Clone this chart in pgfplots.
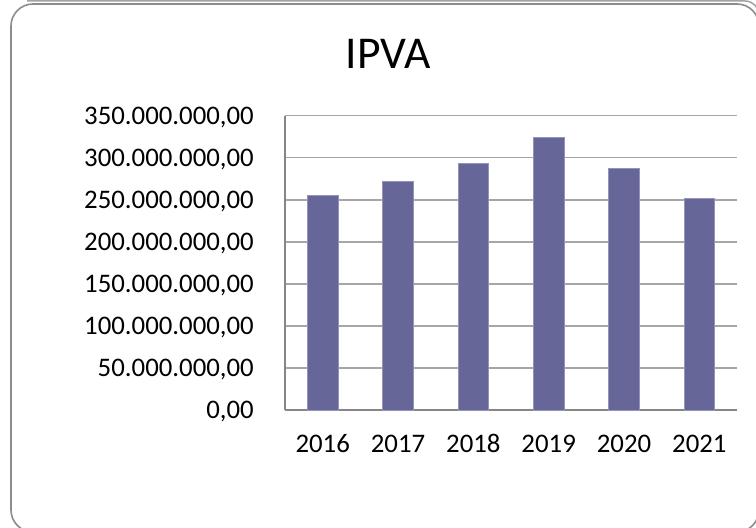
\documentclass[border=0pt]{standalone}
\usepackage{fontspec}
\setmainfont{Carlito}
\usepackage{pgfplots}
\pgfplotsset{compat=1.18}
\definecolor{barcol}{HTML}{666699}
\definecolor{gridcol}{HTML}{A6A6A6}
\definecolor{axiscol}{HTML}{868686}
\definecolor{framecol}{HTML}{8C8C8C}
\begin{document}
\begin{tikzpicture}[x=1pt,y=1pt]
\useasboundingbox (0,0) rectangle (756,528);
\clip (0,0) rectangle (756,528);
\fill[white] (0,0) rectangle (756,528);
% frame with shadow line
\draw[framecol!80, line width=1.5pt] (27,527) -- (745,527) arc[start angle=90, end angle=0, radius=14];
\draw[framecol, line width=1.6pt, rounded corners=22pt] (11,-4) rectangle (759,524);
% title
\node[font=\fontsize{45.5}{52}\selectfont, inner sep=0pt] at (388,474.5) {IPVA};
\begin{axis}[
  at={(285pt,118pt)}, anchor=south west,
  scale only axis, width=452pt, height=294.3pt,
  xmin=-0.5, xmax=5.5, ymin=0, ymax=350000000,
  scaled y ticks=false,
  axis x line*=bottom, axis y line*=left,
  axis line style={axiscol, line width=1.5pt, -},
  ybar, bar width=30.6pt,
  xtick=data,
  xticklabels={2016,2017,2018,2019,2020,2021},
  ytick={0,50000000,100000000,150000000,200000000,250000000,300000000,350000000},
  yticklabels={{0,00},{50.000.000,00},{100.000.000,00},{150.000.000,00},{200.000.000,00},{250.000.000,00},{300.000.000,00},{350.000.000,00}},
  ymajorgrids, grid style={gridcol, line width=1.5pt},
  major tick length=0pt,
  tick style={draw=none},
  ticklabel style={font=\fontsize{26.8}{32}\selectfont, inner sep=0pt},
  yticklabel style={anchor=base east, xshift=-31pt, yshift=-8.3pt},
  xticklabel style={anchor=base, yshift=-42pt},
  clip=false,
]
\addplot[fill=barcol, draw=barcol!70!white, line width=0.6pt] coordinates {
  (0,254900000) (1,272300000) (2,293400000) (3,323900000) (4,287800000) (5,252100000)
};
\end{axis}
\end{tikzpicture}
\end{document}
